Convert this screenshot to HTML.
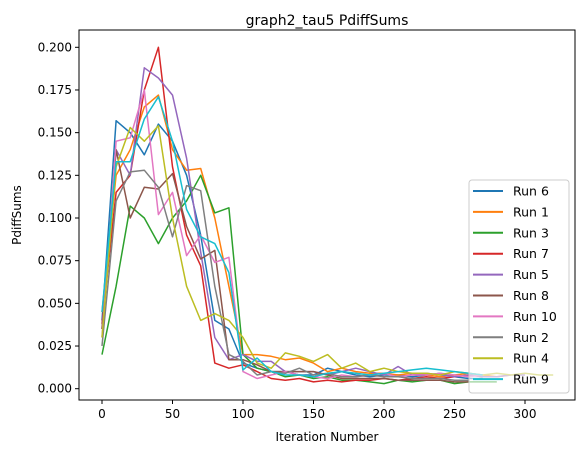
<!DOCTYPE html>
<html><head><meta charset="utf-8"><style>
body{margin:0;background:#fff;}
svg{display:block;font-family:"DejaVu Sans","Liberation Sans",sans-serif;}
</style></head><body>
<svg id="chart" width="585" height="453" viewBox="0 0 585 453" xmlns="http://www.w3.org/2000/svg">
<text x="327" y="25" font-size="14" text-anchor="middle">graph2_tau5 PdiffSums</text>
<g id="plot"></g>
<rect x="79" y="30" width="496" height="370" fill="none" stroke="#000" stroke-width="1"/>
<g id="xticks"></g>
<g id="yticks"></g>
<text x="327" y="441" font-size="12" text-anchor="middle">Iteration Number</text>
<text x="21" y="215" font-size="12" text-anchor="middle" transform="rotate(-90 21 215)">PdiffSums</text>
<g id="legend"></g>
</svg>
<script>
const runNames = ["Run 6","Run 1","Run 3","Run 7","Run 5","Run 8","Run 10","Run 2","Run 4","Run 9"];
const colors = ["#1f77b4","#ff7f0e","#2ca02c","#d62728","#9467bd","#8c564b","#e377c2","#7f7f7f","#bcbd22","#17becf"];
const xTicks = [0,50,100,150,200,250,300];
const yTicks = [0,0.025,0.05,0.075,0.1,0.125,0.15,0.175,0.2];
const yTickLabels = ["0.000","0.025","0.050","0.075","0.100","0.125","0.150","0.175","0.200"];
const run6 = [0.04,0.157,0.15,0.137,0.155,0.145,0.125,0.09,0.04,0.035,0.015,0.012,0.01,0.01,0.008,0.008,0.012,0.01,0.008,0.007,0.008,0.008,0.007,0.008,0.009,0.007,0.006,0.006];
const run1 = [0.045,0.125,0.14,0.165,0.172,0.14,0.128,0.129,0.1,0.06,0.02,0.02,0.019,0.017,0.018,0.015,0.01,0.012,0.01,0.009,0.009,0.008,0.009,0.008,0.007,0.008,0.009,0.008,0.007,0.008];
const run3 = [0.02,0.06,0.107,0.1,0.085,0.1,0.11,0.125,0.103,0.106,0.02,0.012,0.01,0.007,0.008,0.006,0.007,0.005,0.005,0.004,0.003,0.005,0.004,0.005,0.005,0.003,0.004,0.004,0.004];
const run7 = [0.038,0.115,0.125,0.175,0.2,0.13,0.09,0.072,0.015,0.012,0.014,0.01,0.006,0.005,0.006,0.004,0.005,0.004,0.005,0.005,0.006,0.005,0.006,0.007,0.006,0.007,0.008,0.007];
const run5 = [0.035,0.14,0.125,0.188,0.182,0.172,0.135,0.08,0.03,0.017,0.02,0.016,0.016,0.01,0.01,0.01,0.008,0.01,0.012,0.01,0.008,0.013,0.008,0.009,0.008,0.007,0.008,0.007,0.007,0.008,0.008];
const run8 = [0.035,0.14,0.1,0.118,0.117,0.126,0.095,0.076,0.081,0.017,0.017,0.014,0.01,0.01,0.01,0.01,0.008,0.006,0.006,0.006,0.006,0.005,0.005,0.005,0.005,0.004,0.004];
const run10 = [0.03,0.145,0.147,0.175,0.102,0.115,0.078,0.09,0.074,0.077,0.01,0.006,0.008,0.01,0.008,0.007,0.006,0.008,0.007,0.008,0.009,0.007,0.008,0.008,0.009,0.008,0.007,0.008];
const run2 = [0.025,0.11,0.127,0.128,0.118,0.089,0.119,0.116,0.06,0.02,0.016,0.008,0.01,0.009,0.012,0.008,0.009,0.007,0.007,0.008,0.007,0.007,0.006,0.006,0.006,0.005,0.005];
const run4 = [0.03,0.13,0.153,0.145,0.154,0.1,0.06,0.04,0.044,0.04,0.03,0.015,0.012,0.021,0.019,0.016,0.02,0.012,0.015,0.01,0.012,0.01,0.009,0.009,0.008,0.01,0.009,0.008,0.009,0.008,0.009,0.008,0.008];
const run9 = [0.045,0.133,0.133,0.158,0.171,0.145,0.105,0.089,0.085,0.068,0.011,0.018,0.01,0.008,0.008,0.007,0.009,0.01,0.009,0.008,0.009,0.01,0.011,0.012,0.011,0.01,0.009,0.008];
const series = [run6,run1,run3,run7,run5,run8,run10,run2,run4,run9];
const xStep = 10;

const NS="http://www.w3.org/2000/svg";
const xs = v => 102 + v*1.41;
const ys = v => 388.7 - v*(170.7/0.1);
function mk(tag, attrs, parent){const e=document.createElementNS(NS,tag);for(const k in attrs)e.setAttribute(k,attrs[k]);parent.appendChild(e);return e;}
const plot=document.getElementById('plot');
series.forEach((s,i)=>{
  const pts=s.map((v,j)=>xs(j*xStep).toFixed(1)+','+ys(v).toFixed(1)).join(' ');
  const pl=mk('polyline',{points:pts,fill:'none',stroke:colors[i],'stroke-width':1.5,'stroke-linejoin':'round'},plot);
  
  
});
const xg=document.getElementById('xticks');
xTicks.forEach(t=>{
  const l=mk('line',{x1:xs(t),x2:xs(t),y1:400,y2:404,stroke:'#000'},xg);
  
  
  const tx=mk('text',{x:xs(t),y:418,'font-size':12,'text-anchor':'middle'},xg);
  tx.textContent=t;
  
  
});
const yg=document.getElementById('yticks');
yTicks.forEach((t,i)=>{
  const l=mk('line',{x1:75,x2:79,y1:ys(t),y2:ys(t),stroke:'#000'},yg);
  
  
  const tx=mk('text',{x:72,y:ys(t)+4,'font-size':12,'text-anchor':'end'},yg);
  tx.textContent=yTickLabels[i];
  
  
});
const lg=document.getElementById('legend');
const box=mk('rect',{x:469,y:180,width:100,height:213,rx:3,fill:'#fff','fill-opacity':0.6,stroke:'#ccc'},lg);


runNames.forEach((n,i)=>{
  const y=191+i*20.9;
  const l=mk('line',{x1:473,x2:503,y1:y,y2:y,stroke:colors[i],'stroke-width':2},lg);
  
  
  const tx=mk('text',{x:513,y:y+4.5,'font-size':12.5},lg);
  tx.textContent=n;
  
  
});
</script>
</body></html>
